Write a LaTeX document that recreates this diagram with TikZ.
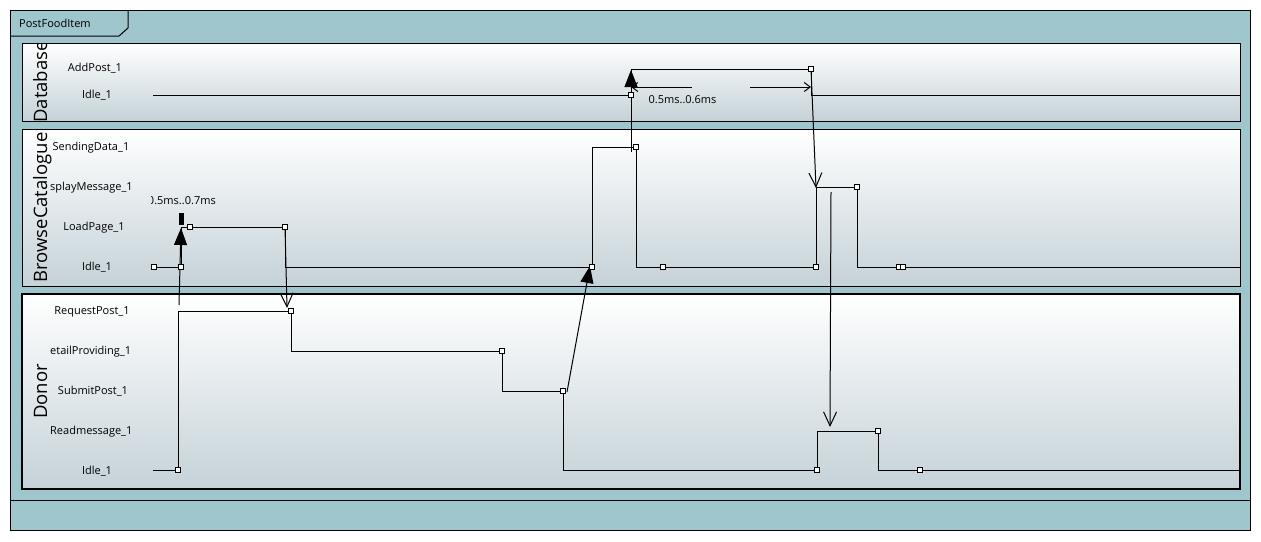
\documentclass[tikz,border=0pt]{standalone}
\usepackage{fontspec}
\setmainfont{Open Sans}
\usetikzlibrary{arrows.meta}
\definecolor{tealbg}{RGB}{158,198,204}
\definecolor{lanelow}{RGB}{197,210,216}
\begin{document}
\begin{tikzpicture}[x=1pt,y=-1pt,
  lanebox/.style={draw=black,line width=1pt,top color=white,bottom color=lanelow},
  statelbl/.style={font=\fontsize{11}{13}\selectfont,inner sep=0pt,anchor=mid,yshift=-2pt},
  lanelbl/.style={font=\fontsize{18.5}{20}\selectfont,rotate=90,inner sep=0pt,anchor=base},
  tline/.style={line width=1pt},
  mk/.style={rectangle,draw=black,fill=white,line width=0.8pt,minimum size=5pt,inner sep=0pt},
  msgfill/.style={line width=1pt,-{Triangle[width=13pt,length=17pt]}},
  msgopen/.style={line width=1pt,-{Straight Barb[width=13pt,length=14pt]}},
  tconL/.style={line width=1pt,{Straight Barb[width=9pt,length=6pt]}-},
  tconR/.style={line width=1pt,-{Straight Barb[width=9pt,length=6pt]}}
]
\useasboundingbox (0,0) rectangle (1261,541);
\fill[white] (0,0) rectangle (1261,541);
% frame
\draw[fill=tealbg,line width=1pt] (10,10) rectangle (1250,530);
\draw[line width=1pt] (10,500) -- (1250,500);
\draw[line width=1pt] (10,36) -- (119,36) -- (128,28) -- (128,10);
\node[statelbl,anchor=mid west] (title) at (19,23) {PostFoodItem};
% lanes
\path[lanebox] (22,43) rectangle (1240,121);
\path[lanebox] (22,129) rectangle (1240,286);
\path[lanebox,line width=2pt] (22,294) rectangle (1240,489);
\begin{scope}
  \clip (22,43) rectangle (1240,121);
  \node[lanelbl] (dbname) at (47,82) {Database};
\end{scope}
\begin{scope}
  \clip (22,129) rectangle (1240,286);
  \node[lanelbl] (bcname) at (47,207.5) {BrowseCatalogue};
\end{scope}
\node[lanelbl] (dnname) at (47,391.5) {Donor};
% state labels
\node[statelbl] (dbAdd) at (95,67) {AddPost\_1};
\node[statelbl] (dbIdle) at (97,94) {Idle\_1};
\node[statelbl] (bcSend) at (91,146) {SendingData\_1};
\node[statelbl,anchor=mid west] (bcDisp) at (50,186) {splayMessage\_1};
\node[statelbl] (bcLoad) at (94,226) {LoadPage\_1};
\node[statelbl] (bcIdle) at (97,266) {Idle\_1};
\node[statelbl] (dnReq) at (92,310) {RequestPost\_1};
\node[statelbl,anchor=mid west] (dnDet) at (50,350) {etailProviding\_1};
\node[statelbl] (dnSub) at (93,390) {SubmitPost\_1};
\node[statelbl,anchor=mid west] (dnRead) at (50,430) {Readmessage\_1};
\node[statelbl] (dnIdle) at (97,470) {Idle\_1};
% timelines
\draw[tline] (153,95) -- (631,95) -- (631,69) -- (811,69) -- (811,95) -- (1240,95);
\draw[tline] (154,267) -- (181,267) -- (181,227) -- (285,227) -- (285,267) -- (592,267)
  -- (592,147) -- (636,147) -- (636,267) -- (816,267) -- (816,187) -- (857,187)
  -- (857,267) -- (1240,267);
\draw[tline] (153,470) -- (178,470) -- (178,311) -- (291,311) -- (291,351) -- (502,351)
  -- (502,391) -- (563,391) -- (563,470) -- (817,470) -- (817,431) -- (878,431)
  -- (878,470) -- (1240,470);
% message coordinates
\coordinate (m1s) at (179,305); \coordinate (m1e) at (181,228);
\coordinate (m2s) at (285,227); \coordinate (m2e) at (287,308);
\coordinate (m3s) at (567,392); \coordinate (m3e) at (590,266);
\coordinate (m4s) at (631,152); \coordinate (m4e) at (631,70);
\coordinate (m5s) at (811,69);  \coordinate (m5e) at (816,188);
\coordinate (m6s) at (831,192); \coordinate (m6e) at (830,427);
\draw[msgfill] (m1s) -- (m1e);
\draw[msgopen] (m2s) -- (m2e);
\draw[msgfill] (m3s) -- (m3e);
\draw[msgfill] (m4s) -- (m4e);
\draw[msgopen] (m5s) -- (m5e);
\draw[msgopen] (m6s) -- (m6e);
% timing constraints
\coordinate (t1a) at (631,87); \coordinate (t1b) at (692,87);
\coordinate (t1c) at (750,87); \coordinate (t1d) at (811,87);
\draw[tconL] (t1a) -- (t1b);
\draw[tconR] (t1c) -- (t1d);
\node[statelbl] (t1lbl) at (682.5,99) {0.5ms..0.6ms};
\begin{scope}
  \clip (151,185) rectangle (300,212);
  \node[statelbl,anchor=mid east] (t2lbl) at (216,200) {0.5ms..0.7ms};
\end{scope}
\fill (179,213) rectangle (184,225);
% markers
\foreach \n/\p in {a/{631,95},b/{811,69},c/{154,267},d/{181,267},e/{190,227},f/{285,227},
  g/{592,267},h/{636,147},i/{663,267},j/{816,267},k/{857,187},l/{899,267},m/{903,267},
  n/{178,470},o/{291,311},p/{502,351},q/{563,391},r/{817,470},s/{878,431},t/{920,470}}
  \node[mk] (sq\n) at (\p) {};
\end{tikzpicture}
\end{document}
